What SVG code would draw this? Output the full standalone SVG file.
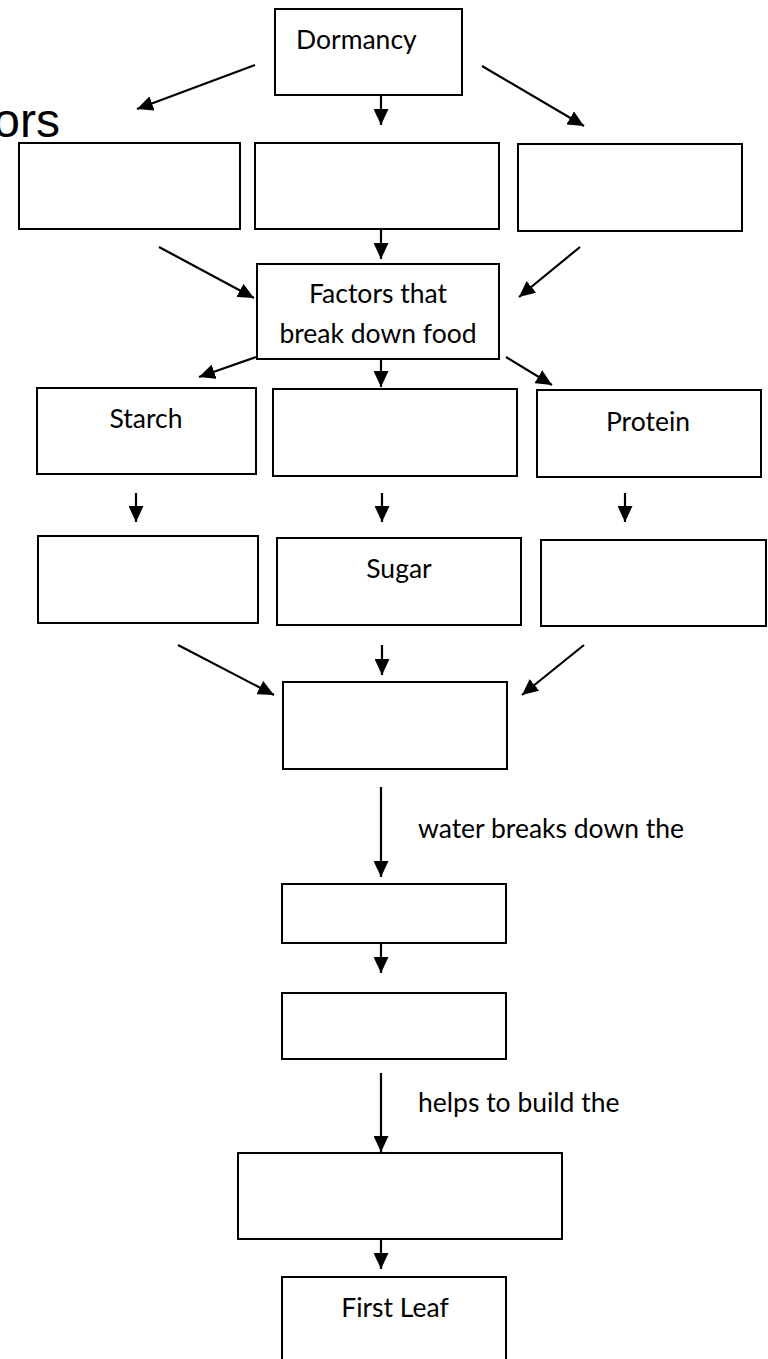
<svg xmlns="http://www.w3.org/2000/svg" width="768" height="1359" viewBox="0 0 768 1359">
<style>
.box{fill:#fff;stroke:#000;stroke-width:2}
.lbl{font-family:Lato,"Open Sans","Liberation Sans",sans-serif;font-size:26.5px;fill:#000}
.c{text-anchor:middle}
.conn line{stroke:#000;stroke-width:2.2}
.big{font-family:"Liberation Sans",Arial,sans-serif;font-size:48px;fill:#000}
</style>
<defs>
<marker id="ah" markerUnits="userSpaceOnUse" markerWidth="16" markerHeight="15" refX="16" refY="7.5" orient="auto">
<path d="M0,0 L16,7.5 L0,15 Z" fill="#000"/>
</marker>
</defs>
<rect width="768" height="1359" fill="#fff"/>
<text class="big" x="60" y="137" text-anchor="end">ors</text>

<g id="n-dormancy"><rect class="box" x="275" y="9" width="187" height="86"/><text class="lbl" x="296" y="49">Dormancy</text></g>
<g id="n-r2a"><rect class="box" x="19" y="143" width="221" height="86"/></g>
<g id="n-r2b"><rect class="box" x="255" y="143" width="244" height="86"/></g>
<g id="n-r2c"><rect class="box" x="518" y="144" width="224" height="87"/></g>
<g id="n-factors"><rect class="box" x="257" y="264" width="242" height="95"/><text class="lbl c" x="378" y="303">Factors that</text><text class="lbl c" x="378" y="343">break down food</text></g>
<g id="n-starch"><rect class="box" x="37" y="388" width="219" height="86"/><text class="lbl c" x="146" y="428">Starch</text></g>
<g id="n-r3b"><rect class="box" x="273" y="389" width="244" height="87"/></g>
<g id="n-protein"><rect class="box" x="537" y="390" width="224" height="87"/><text class="lbl c" x="648" y="431">Protein</text></g>
<g id="n-r4a"><rect class="box" x="38" y="536" width="220" height="87"/></g>
<g id="n-sugar"><rect class="box" x="277" y="538" width="244" height="87"/><text class="lbl c" x="399" y="578">Sugar</text></g>
<g id="n-r4c"><rect class="box" x="541" y="540" width="225" height="86"/></g>
<g id="n-r5"><rect class="box" x="283" y="682" width="224" height="87"/></g>
<g id="n-r6"><rect class="box" x="282" y="884" width="224" height="59"/></g>
<g id="n-r7"><rect class="box" x="282" y="993" width="224" height="66"/></g>
<g id="n-r8"><rect class="box" x="238" y="1153" width="324" height="86"/></g>
<g id="n-firstleaf"><rect class="box" x="282" y="1277" width="224" height="87"/><text class="lbl c" x="395" y="1317">First Leaf</text></g>

<g id="connectors" class="conn">
<line x1="255" y1="65" x2="137" y2="109" marker-end="url(#ah)"/>
<line x1="381" y1="95" x2="381" y2="125" marker-end="url(#ah)"/>
<line x1="482" y1="66" x2="584" y2="126" marker-end="url(#ah)"/>
<line x1="381" y1="229" x2="381" y2="259" marker-end="url(#ah)"/>
<line x1="159" y1="247" x2="254" y2="298" marker-end="url(#ah)"/>
<line x1="580" y1="247" x2="519" y2="297" marker-end="url(#ah)"/>
<line x1="256" y1="357" x2="199" y2="377" marker-end="url(#ah)"/>
<line x1="381" y1="359" x2="381" y2="387" marker-end="url(#ah)"/>
<line x1="506" y1="357" x2="552" y2="385" marker-end="url(#ah)"/>
<line x1="136" y1="493" x2="136" y2="522" marker-end="url(#ah)"/>
<line x1="382" y1="493" x2="382" y2="522" marker-end="url(#ah)"/>
<line x1="625" y1="493" x2="625" y2="522" marker-end="url(#ah)"/>
<line x1="178" y1="645" x2="274" y2="695" marker-end="url(#ah)"/>
<line x1="382" y1="645" x2="382" y2="675" marker-end="url(#ah)"/>
<line x1="584" y1="645" x2="522" y2="695" marker-end="url(#ah)"/>
<line x1="381" y1="787" x2="381" y2="877" marker-end="url(#ah)"/>
<line x1="381" y1="943" x2="381" y2="973" marker-end="url(#ah)"/>
<line x1="381" y1="1073" x2="381" y2="1152" marker-end="url(#ah)"/>
<line x1="381" y1="1239" x2="381" y2="1269" marker-end="url(#ah)"/>
</g>
<text class="lbl" x="418" y="838">water breaks down the</text>
<text class="lbl" x="418" y="1112">helps to build the</text>
</svg>
